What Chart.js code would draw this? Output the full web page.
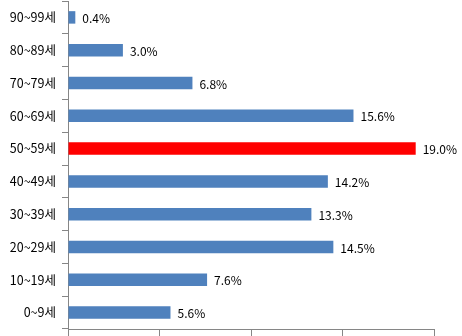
<!DOCTYPE html>
<html>
<head>
<meta charset="utf-8">
<script src="https://cdn.jsdelivr.net/npm/chart.js@4"></script>
<style>
  html, body { margin: 0; padding: 0; background: #fff; }
  #wrap { width: 462px; height: 336px; position: relative; }
</style>
</head>
<body>
<div id="wrap"><canvas id="ageChart"></canvas></div>
<script>
const ageGroups = ['90~99세', '80~89세', '70~79세', '60~69세', '50~59세', '40~49세', '30~39세', '20~29세', '10~19세', '0~9세'];
const shares = [0.4, 3.0, 6.8, 15.6, 19.0, 14.2, 13.3, 14.5, 7.6, 5.6];
const highlightGroup = '50~59세';

const barColors = ageGroups.map(g => g === highlightGroup ? '#FF0000' : '#4F81BD');

// value labels at the end of each bar
const valueLabels = {
    id: 'valueLabels',
    afterDatasetsDraw(chart) {
        const ctx = chart.ctx;
        const meta = chart.getDatasetMeta(0);
        ctx.save();
        ctx.font = '12px "Noto Sans CJK KR", "Noto Sans", sans-serif';
        ctx.fillStyle = '#000';
        ctx.textAlign = 'left';
        ctx.textBaseline = 'middle';
        meta.data.forEach((bar, i) => {
            ctx.fillText(shares[i].toFixed(1) + '%', bar.x + 7, bar.y + 1);
        });
        ctx.restore();
    }
};

const ctx = document.getElementById('ageChart').getContext('2d');
new Chart(ctx, {
    type: 'bar',
    data: {
        labels: ageGroups,
        datasets: [{
            data: shares,
            backgroundColor: barColors,
            borderWidth: 0,
            barPercentage: 0.38,
            categoryPercentage: 1
        }]
    },
    options: {
        indexAxis: 'y',
        responsive: true,
        maintainAspectRatio: false,
        animation: false,
        layout: { padding: { top: 1, right: 28, left: 0, bottom: 0 } },
        scales: {
            x: {
                min: 0,
                max: 20,
                ticks: { display: false, stepSize: 5 },
                grid: { drawOnChartArea: false, drawTicks: true, tickLength: 7, color: '#868686' },
                border: { color: '#868686' },
                afterFit: s => { s.height = 7; s.paddingLeft = 0; s.paddingRight = 0; }
            },
            y: {
                ticks: {
                    color: '#000',
                    padding: 6,
                    font: { size: 12.5, family: '"Noto Sans CJK KR", "Noto Sans", sans-serif' }
                },
                grid: { offset: true, drawOnChartArea: false, drawTicks: true, tickLength: 6, color: '#868686' },
                border: { color: '#868686' },
                afterFit: s => { s.width = 68; s.paddingTop = 0; s.paddingBottom = 0; }
            }
        },
        plugins: {
            legend: { display: false },
            tooltip: { enabled: false }
        }
    },
    plugins: [valueLabels]
});
</script>
</body>
</html>
